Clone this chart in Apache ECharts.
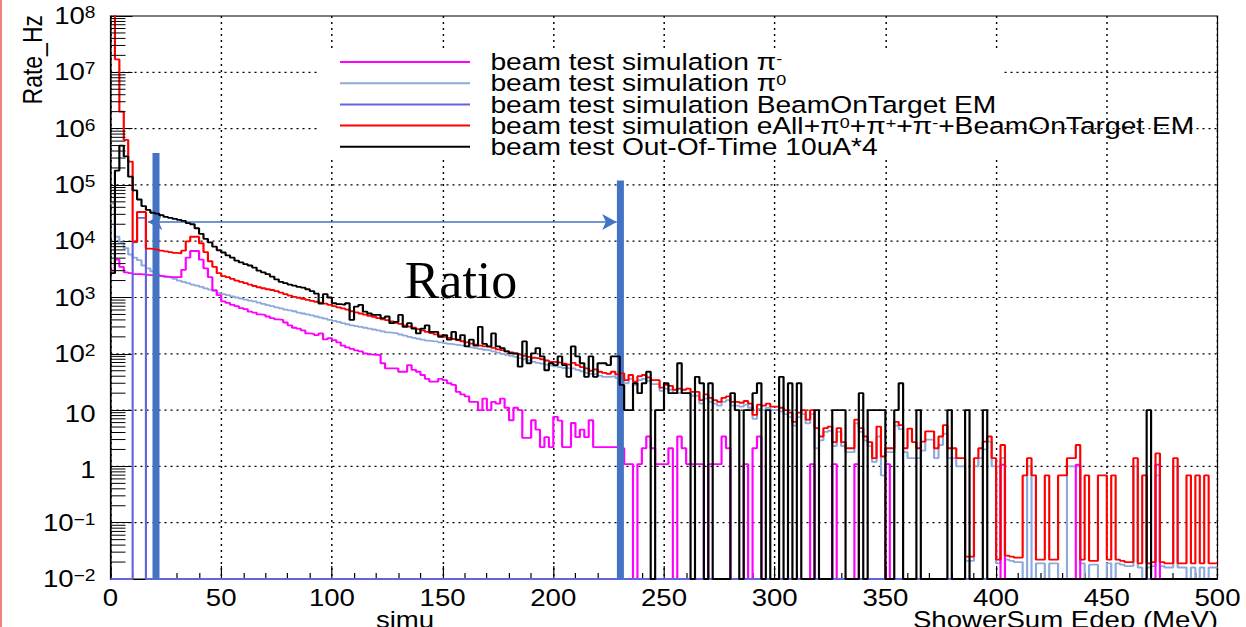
<!DOCTYPE html>
<html>
<head>
<meta charset="utf-8">
<title>ShowerSum Edep rate</title>
<script src="https://cdn.jsdelivr.net/npm/echarts@6.0.0/dist/echarts.min.js"></script>
<style>
  html, body { margin: 0; padding: 0; background: #ffffff; overflow: hidden; }
  #stage { width: 1246px; height: 627px; overflow: hidden; position: relative; background: #fff; }
  #chart { position: absolute; left: 0; top: 0; width: 1038.333px; height: 627px; transform: scaleX(1.2); transform-origin: 0 0; }
</style>
</head>
<body>
<div id="stage"><div id="chart"></div></div>
<script>
// ================= DATA =================
const binWidthMeV = 2;           // histogram bin width (MeV), 250 bins from 0 to 500
const nBins = 250;
const xTickValues = [0, 50, 100, 150, 200, 250, 300, 350, 400, 450, 500];
const yDecades = [-2, -1, 0, 1, 2, 3, 4, 5, 6, 7, 8];

const seriesNames = [
  'beam test simulation \u03c0-',
  'beam test simulation \u03c00',
  'beam test simulation BeamOnTarget EM',
  'beam test simulation eAll+\u03c00+\u03c0++\u03c0-+BeamOnTarget EM',
  'beam test Out-Of-Time 10uA*4'
];

// beam test simulation pi-  (magenta)
const ratePiMinus = [
  3.0e3,4.7e3,3.5e3,2.8e3,2.7e3,2.6e3,2.6e3,2.55e3,2.5e3,2.5e3,
  2.45e3,2.4e3,2.35e3,2.3e3,2.3e3,2.3e3,3.1e3,5.1e3,6.7e3,6.7e3,
  4.7e3,3.3e3,2.3e3,1.35e3,1.1e3,850,800,740,700,650,
  620,560,540,500,490,460,430,410,400,360,
  320,290,280,260,230,225,215,230,180,190,
  175,160,140,130,122,115,110,102,98,96,
  96,68,55,55,55,48,48,63,52,48,
  42,36,32,32,36,34,30,28,21,19,
  17.5,14,14,10,16,10,14,13,16,11,
  6.6,11,10,3.2,3.2,6.6,4.5,2.2,3.3,2.2,
  7.6,6.5,2.2,2.2,5.9,3.3,4.5,3.3,6.6,2.2,
  2.2,2.2,2.2,2.2,2.2,2.1,1.1,1.1,0,1.1,
  2.1,3.4,2.1,1.1,1.1,1.1,2.1,0,3.4,2.1,
  1.1,1.1,1.1,1.1,0,1.1,1.1,1.1,3.4,2.1,
  0,0,0,1.1,0,2.1,3.4,0,0,0,
  0,0,0,0,0,0,0,0,1.1,0,
  0,0,0,1.1,0,0,0,0,1.1,0,
  0,0,0,0,0,1.1,0,0,0,0,
  0,0,0,0,0,0,0,0,0,0,
  0,0,0,0,0,0,0,0,0,0,
  0,1.07,0,0,0,0,0,0,0,0,
  0,0,0,0,0,0,0,0,1.07,0,
  0,0,0,0,0,0,0,0,0,0,
  0,0,0,0,0,0,1.07,0,0,0,
  0,0,0,0,0,0,0,0,0,0
];

// beam test simulation pi0  (light blue)
const ratePi0 = [
  4.7e4,1.2e4,9.5e3,7.5e3,5.8e3,5.1e3,4.6e3,3.7e3,3.3e3,2.9e3,
  2.6e3,2.4e3,2.3e3,2.25e3,2.15e3,2.0e3,1.9e3,1.8e3,1.7e3,1.62e3,
  1.55e3,1.45e3,1.38e3,1.3e3,1.2e3,1.15e3,1.1e3,1.05e3,1.0e3,960,
  920,880,850,810,770,730,700,670,640,610,
  590,570,540,520,500,480,460,440,420,400,
  385,370,350,335,320,310,300,290,280,270,
  260,250,240,235,230,220,210,200,192,185,
  178,172,168,165,160,155,150,146,142,138,
  135,130,126,122,118,115,110,105,100,96,
  92,88,84,80,76,72,69,67,64,62,
  60,58,56,55,55,52,49,46,44,43,
  41,39,39,40,37,38,30,36,28,34,
  36,33,29,29,22,24,23,20,20,20,
  20,18,18,13,16,14,13,12,14,15,
  12,12,11.5,12.5,11,7,10.5,10,11,10,
  10,9.5,8.5,7.5,5.3,7.5,8.5,5.8,8.5,2.1,
  2.9,4.1,4.3,2.3,4.1,2.3,1.8,1.8,5.8,4.1,
  2.9,2.3,1.2,3.4,0.69,1.8,1.8,5.3,4.6,1.8,
  1.4,1.4,1.4,1.9,3.0,3.0,1.4,2.4,3.8,1.4,
  1.4,1.0,1.0,0.021,0.021,1.0,1.4,2.0,2.75,1.0,
  0.019,1.4,0.022,0.021,0.02,0.02,0,1.0,0,0.019,
  0.019,0,0.019,0.019,0,0,1.0,1.0,1.0,0.019,
  0,0.018,0.018,0,0,0.019,0,0.019,0.018,0.017,
  0.017,1.0,0.016,0,0.016,0.017,0.69,0.017,0.016,0.016,
  1.0,0.016,0.016,0,0.016,0,0.016,0,0.016,0.016
];

// beam test simulation BeamOnTarget EM (dark blue); all later bins are empty
const rateBeamOnTargetEM = [0, 0, 0, 0, 0, 9.5e3, 2.6e4, 2.6e4];

// beam test simulation eAll+pi0+pi+ +pi- +BeamOnTarget EM (red)
const rateTotalSim = [
  3e8,1.7e7,2.0e6,6.3e5,2.6e5,9.8e3,3.3e4,3.3e4,7.4e3,7.2e3,
  7.0e3,6.8e3,6.6e3,6.4e3,6.2e3,6.1e3,6.8e3,9.9e3,1.2e4,1.2e4,
  9.2e3,6.4e3,4.4e3,3.5e3,2.7e3,2.4e3,2.3e3,2.15e3,2.0e3,1.9e3,
  1.8e3,1.7e3,1.6e3,1.52e3,1.46e3,1.4e3,1.36e3,1.3e3,1.22e3,1.15e3,
  1.08e3,1.03e3,990,950,910,870,840,810,780,740,
  700,670,640,610,570,545,520,495,470,455,
  430,410,395,375,355,340,320,305,290,275,
  260,245,232,222,212,200,192,183,175,167,
  160,152,146,140,136,133,127,120,116,110,
  106,101,97,92,88,85,83,80,76,72,
  71,69,67,64,69,63,58,55,50,53,
  48,46,44,48,43,45,34,42,32,40,
  42,38,34,34,25,28,27,23,24,23,
  24,21,21,15,19,16.5,15,14,16.5,17.5,
  14,14,13.5,14.5,13,8.2,12.5,12,13,11.5,
  11.5,11,10,9,6.2,9,10,6.8,10,4.8,
  3.4,4.8,5.1,2.7,4.8,2.7,2.1,2.1,6.8,4.8,
  3.4,2.7,1.4,5.1,1.5,2.1,2.1,6.2,5.4,2.1,
  4.7,2.7,2.1,2.75,4.2,4.2,2.1,3.4,5.4,2.1,
  2.1,1.4,1.4,0.025,0.025,1.4,2.1,2.75,3.4,1.4,
  0.022,2.4,0.026,0.025,0.024,0.024,0.69,1.4,0.69,0.022,
  0.022,0.69,0.022,0.022,0.69,0.69,1.4,1.4,2.4,0.022,
  0.69,0.021,0.021,0.69,0.69,0.022,0.69,0.022,0.021,0.02,
  0.02,1.4,0.019,0.69,0.019,0.02,1.7,0.02,0.019,0.019,
  1.4,0.019,0.019,0.69,0.019,0.69,0.019,0.69,0.019,0.019
];

// beam test Out-Of-Time 10uA*4 (black)
const rateOutOfTime = [
  2.7e3,1.8e5,5e5,3.2e5,1.4e5,8e4,5.5e4,4.2e4,3.6e4,3.2e4,
  3.1e4,2.9e4,2.7e4,2.6e4,2.5e4,2.4e4,2.3e4,2.1e4,2.0e4,1.7e4,
  1.35e4,1.1e4,9.5e3,8e3,6.9e3,6.3e3,5.6e3,5.1e3,4.5e3,4.2e3,
  3.9e3,3.7e3,3.4e3,3.0e3,2.8e3,2.6e3,2.35e3,2.1e3,1.9e3,1.8e3,
  1.7e3,1.62e3,1.55e3,1.5e3,1.4e3,1.3e3,1.17e3,780,1.15e3,1.0e3,
  790,760,740,790,400,690,740,560,520,490,
  490,430,460,350,370,490,300,350,280,230,
  280,320,245,245,200,215,178,245,178,215,
  135,178,140,300,150,135,230,135,126,110,
  102,102,59,166,68,102,126,90,51,68,
  63,90,63,39,135,90,68,39,90,39,
  68,68,63,90,90,28,10,10,30,20,
  30,48,0,10,10,30,20,20,68,20,
  20,0,39,30,0,30,0,0,0,0,
  20,10,0,10,10,20,30,0,10,0,
  0,39,0,30,0,30,0,0,0,10,
  0,0,0,10,10,10,0,0,0,20,
  0,10,10,10,10,0,0,10,30,0,
  0,0,10,0,0,0,0,0,0,10,
  0,0,0,10,0,0,0,10,0,0,
  0,0,0,0,0,0,0,0,0,0,
  0,0,0,0,0,0,0,0,0,0,
  0,0,0,0,0,0,0,0,0,0,
  0,0,0,0,10,0,0,0,0,0,
  0,0,0,0,0,0,0,0,0,0
];

// "Ratio" annotation (in data units: MeV, Hz)
const ratioBars = [ { x: 20.3, top: 3.7e5 }, { x: 230, top: 1.2e5 } ];
const ratioArrow = { y: 2.2e4, from: 16.9, to: 228.6 };

// ================= LAYOUT / STYLE =================
const SX = 1.2;                 // the reference picture is stretched horizontally
const W = 1246 / SX;
const px = x => x / SX;         // reference x-pixels -> internal pixels
const FONT = 'Liberation Sans';
const yMin = 0.01, yMax = 1e8;

const colors = {
  piMinus: '#ff00ff',
  pi0: '#8eaadc',
  bot: '#6464dc',
  total: '#ff0000',
  oot: '#000000',
  annot: '#4472c4'
};

function histPoints(vals) {
  const pts = [];
  for (let i = 0; i < nBins; i++) {
    const v = vals[i] || 0;
    pts.push([i * binWidthMeV, v > 0 ? v : yMin]);
  }
  pts.push([nBins * binWidthMeV, pts[pts.length - 1][1]]);
  return pts;
}

const yDecadeValues = yDecades.map(e => Number(Math.pow(10, e).toPrecision(3)));
const yMinorValues = [];
yDecades.slice(0, -1).forEach(d => {
  for (let m = 2; m <= 9; m++) yMinorValues.push(Number((m * Math.pow(10, d)).toPrecision(3)));
});

const legendRich = {};
legendRich[seriesNames[0]] = '{t|beam test simulation }{g|\u03c0}{s|-}';
legendRich[seriesNames[1]] = '{t|beam test simulation }{g|\u03c0}{s|0}';
legendRich[seriesNames[2]] = '{t|beam test simulation BeamOnTarget EM}';
legendRich[seriesNames[3]] = '{t|beam test simulation eAll+}{g|\u03c0}{s|0}{t|+}{g|\u03c0}{s|+}{t|+}{g|\u03c0}{s|-}{t|+BeamOnTarget EM}';
legendRich[seriesNames[4]] = '{t|beam test Out-Of-Time 10uA*4}';

function lineSeries(name, vals, color, z) {
  return {
    name: name, type: 'line', step: 'end', data: histPoints(vals),
    symbol: 'none', showSymbol: false, silent: true, z: z, clip: true,
    color: color, itemStyle: { color: color },
    lineStyle: { color: color, width: 1.8 },
    emphasis: { disabled: true }, animation: false
  };
}

const chart = echarts.init(document.getElementById('chart'), null, { renderer: 'svg', width: W, height: 627 });

const option = {
  animation: false,
  backgroundColor: '#ffffff',
  grid: {
    left: px(110.5), right: W - px(1217.5), top: 16, bottom: 627 - 579,
    show: true, borderColor: '#000', borderWidth: 1, backgroundColor: 'transparent',
    outerBoundsMode: 'none', containLabel: false
  },
  xAxis: {
    type: 'value', min: 0, max: 500, interval: 50,
    axisLine: { show: true, onZero: false, lineStyle: { color: '#000', width: 1 } },
    axisTick: { show: true, inside: true, length: 13, lineStyle: { color: '#000', width: 1 } },
    minorTick: { show: true, splitNumber: 5, length: 6, lineStyle: { color: '#000', width: 1 } },
    minorSplitLine: { show: false },
    axisLabel: {
      show: true, margin: 7, color: '#000', fontFamily: FONT, fontSize: 23,
      showMinLabel: true, showMaxLabel: true,
      formatter: v => (xTickValues.indexOf(v) >= 0 ? String(v) : '')
    },
    splitLine: { show: true, lineStyle: { color: '#000', width: 1.2, type: [2, 4] } }
  },
  yAxis: {
    type: 'log', logBase: 10, min: yMin, max: yMax,
    axisLine: { show: true, lineStyle: { color: '#000', width: 1 } },
    axisTick: { show: true, inside: true, length: px(22), customValues: yDecadeValues, lineStyle: { color: '#000', width: 1 } },
    axisLabel: {
      show: true, margin: px(15), color: '#000', showMinLabel: true, showMaxLabel: true,
      customValues: yDecadeValues,
      formatter: v => {
        const e = Math.round(Math.log10(v));
        if (yDecades.indexOf(e) < 0) return '';
        if (e === 0) return '{n|1}';
        if (e === 1) return '{n|10}';
        return '{b|10}{s|' + (e < 0 ? '\u2212' + (-e) : String(e)) + '}';
      },
      rich: {
        n: { fontFamily: FONT, fontSize: 23, lineHeight: 23, color: '#000', padding: [7, 0, 0, 0] },
        b: { fontFamily: FONT, fontSize: 23, lineHeight: 23, color: '#000', verticalAlign: 'bottom' },
        s: { fontFamily: FONT, fontSize: 16, lineHeight: 16, color: '#000', verticalAlign: 'top', padding: [0, 0, 14, 0] }
      }
    },
    splitLine: { show: false },
    minorTick: { show: false }
  },
  legend: {
    show: true, orient: 'vertical', left: px(340), top: 50, padding: 0, itemGap: -2.8,
    itemWidth: px(130), itemHeight: 2, icon: 'rect', selectedMode: false, z: 6,
    data: seriesNames,
    formatter: n => legendRich[n],
    textStyle: {
      fontFamily: FONT, fontSize: 23.5, color: '#000', lineHeight: 21, padding: [0, 0, 0, 12],
      rich: {
        t: { fontFamily: FONT, fontSize: 23.5, lineHeight: 21, color: '#000' },
        g: { fontFamily: FONT, fontSize: 23.5, lineHeight: 21, color: '#000' },
        s: { fontFamily: FONT, fontSize: 15, lineHeight: 15, color: '#000', verticalAlign: 'top', padding: [0, 0, 6, 0] }
      }
    }
  },
  graphic: [
    { type: 'rect', z: 1, silent: true, shape: { x: 0, y: 0, width: px(2), height: 627 }, style: { fill: '#f08080' } },
    { type: 'rect', z: 1, silent: true, shape: { x: px(318), y: 50, width: px(1003 - 318), height: 110 }, style: { fill: '#ffffff' } },
    { type: 'text', z: 20, silent: true, x: px(461), y: 280, scaleX: 1 / SX,
      style: { text: 'Ratio', fontFamily: 'Liberation Serif', fontSize: 52, fill: '#000', align: 'center', verticalAlign: 'middle' } },
    { type: 'text', z: 20, silent: true, x: px(32), y: 15, rotation: Math.PI / 2,
      style: { text: 'Rate_Hz', fontFamily: FONT, fontSize: 23, fill: '#000', align: 'right', verticalAlign: 'middle' } },
    { type: 'text', z: 20, silent: true, x: px(1218), y: 620,
      style: { text: 'ShowerSum Edep (MeV)', fontFamily: FONT, fontSize: 23, fill: '#000', align: 'right', verticalAlign: 'middle' } },
    { type: 'text', z: 20, silent: true, x: px(405), y: 620,
      style: { text: 'simu', fontFamily: FONT, fontSize: 23, fill: '#000', align: 'center', verticalAlign: 'middle' } }
  ],
  series: [
    {
      type: 'custom', name: 'yGridLines', silent: true, z: 0, clip: false, animation: false,
      data: yDecadeValues.slice(1, -1).map(v => [0, v]),
      renderItem: (params, api) => {
        const p = api.coord([0, api.value(1)]);
        return { type: 'line', shape: { x1: p[0], y1: p[1], x2: p[0] + params.coordSys.width, y2: p[1] },
                 style: { stroke: '#000', lineWidth: 1.2, lineDash: [1.7, 3.3] } };
      }
    },
    lineSeries(seriesNames[1], ratePi0, colors.pi0, 2),
    lineSeries(seriesNames[0], ratePiMinus, colors.piMinus, 3),
    lineSeries(seriesNames[2], rateBeamOnTargetEM, colors.bot, 4),
    lineSeries(seriesNames[3], rateTotalSim, colors.total, 5),
    lineSeries(seriesNames[4], rateOutOfTime, colors.oot, 6),
    {
      type: 'custom', name: 'yMinorTicks', silent: true, z: 7, clip: false, animation: false,
      data: yMinorValues.map(v => [0, v]),
      renderItem: (params, api) => {
        const p = api.coord([0, api.value(1)]);
        return { type: 'line', shape: { x1: p[0], y1: p[1], x2: p[0] + px(15), y2: p[1] },
                 style: { stroke: '#000', lineWidth: 1 } };
      }
    },
    {
      type: 'line', name: 'ratioAnnotation', silent: true, z: 8, animation: false,
      data: [[0, yMin]], symbol: 'none', lineStyle: { opacity: 0 },
      markLine: {
        silent: true, animation: false, symbol: ['none', 'none'], label: { show: false },
        emphasis: { disabled: true },
        data: [
          [ { coord: [ratioBars[0].x, ratioBars[0].top], lineStyle: { color: colors.annot, width: px(7), type: 'solid' } },
            { coord: [ratioBars[0].x, yMin] } ],
          [ { coord: [ratioBars[1].x, ratioBars[1].top], lineStyle: { color: colors.annot, width: px(7), type: 'solid' } },
            { coord: [ratioBars[1].x, yMin] } ],
          [ { coord: [ratioArrow.from, ratioArrow.y], symbol: 'arrow', symbolSize: [12, 12],
              lineStyle: { color: colors.annot, width: 1.5, type: 'solid' }, itemStyle: { color: colors.annot } },
            { coord: [ratioArrow.to, ratioArrow.y], symbol: 'arrow', symbolSize: [12, 12], itemStyle: { color: colors.annot } } ]
        ]
      }
    }
  ]
};
chart.setOption(option);
</script>
</body>
</html>
